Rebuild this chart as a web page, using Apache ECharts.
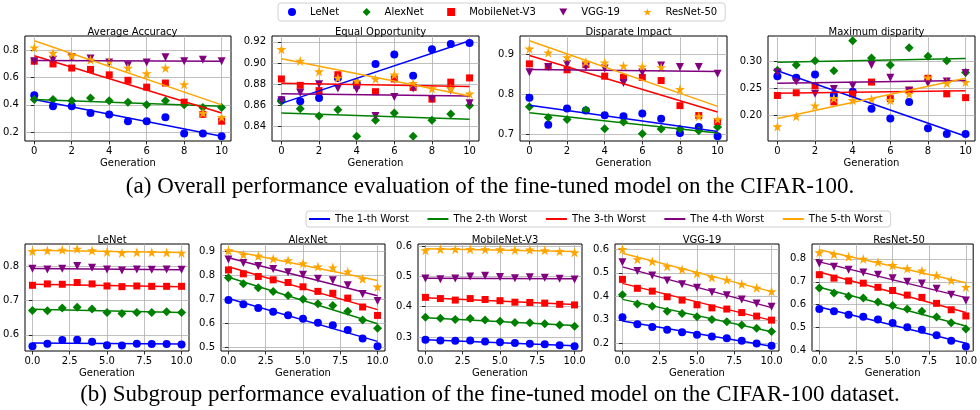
<!DOCTYPE html>
<html><head><meta charset="utf-8">
<script src="https://cdn.jsdelivr.net/npm/echarts@6/dist/echarts.min.js"></script>
<style>html,body{margin:0;padding:0;background:#fff}#c{width:980px;height:410px}</style>
</head><body><div id="c"></div><script>
// ---------------- data ----------------
const generations = [0,1,2,3,4,5,6,7,8,9,10];
const modelNames = ['LeNet','AlexNet','MobileNet-V3','VGG-19','ResNet-50'];
const worstNames = ['The 1-th Worst','The 2-th Worst','The 3-th Worst','The 4-th Worst','The 5-th Worst'];
const topTitles = ['Average Accuracy','Equal Opportunity','Disparate Impact','Maximum disparity'];
const bottomTitles = ['LeNet','AlexNet','MobileNet-V3','VGG-19','ResNet-50'];
const xTicksTop = [0,2,4,6,8,10];
const xTicksBottom = [0,2.5,5,7.5,10];

// (a) overall metrics, one row per model: LeNet, AlexNet, MobileNet-V3, VGG-19, ResNet-50
const averageAccuracy = [
  [0.47,0.39,0.39,0.34,0.33,0.28,0.28,0.31,0.19,0.19,0.17],
  [0.44,0.44,0.43,0.45,0.43,0.42,0.40,0.43,0.40,0.38,0.38],
  [0.72,0.70,0.67,0.66,0.62,0.58,0.53,0.56,0.42,0.33,0.28],
  [0.72,0.73,0.75,0.74,0.71,0.69,0.71,0.75,0.72,0.73,0.72],
  [0.82,0.78,0.76,0.73,0.72,0.67,0.63,0.67,0.55,0.34,0.31]
];
const averageAccuracyFit = [[0.44,0.17],[0.44,0.39],[0.76,0.34],[0.725,0.72],[0.87,0.40]];
const equalOpportunity = [
  [0.865,0.864,0.867,0.886,0.881,0.899,0.908,0.888,0.913,0.918,0.919],
  [0.864,0.857,0.850,0.856,0.831,0.846,0.853,0.831,0.846,0.852,0.860],
  [0.885,0.879,0.874,0.889,0.879,0.873,0.885,0.877,0.866,0.882,0.886],
  [0.865,0.872,0.880,0.876,0.875,0.850,0.868,0.876,0.866,0.874,0.862],
  [0.913,0.902,0.892,0.886,0.883,0.885,0.889,0.881,0.876,0.876,0.871]
];
const equalOpportunityFit = [[0.862,0.921],[0.853,0.847],[0.881,0.878],[0.871,0.869],[0.904,0.869]];
const disparateImpact = [
  [0.792,0.724,0.765,0.760,0.748,0.745,0.752,0.739,0.703,0.718,0.695],
  [0.769,0.742,0.737,0.761,0.714,0.731,0.701,0.713,0.713,0.709,0.718],
  [0.877,0.870,0.862,0.875,0.846,0.843,0.843,0.835,0.772,0.747,0.732],
  [0.856,0.869,0.876,0.870,0.865,0.829,0.855,0.873,0.869,0.869,0.852],
  [0.915,0.905,0.893,0.882,0.880,0.872,0.870,0.868,0.813,0.745,0.738]
];
const disparateImpactFit = [[0.773,0.707],[0.754,0.703],[0.898,0.756],[0.863,0.858],[0.935,0.770]];
const maximumDisparity = [
  [0.273,0.270,0.276,0.238,0.244,0.212,0.194,0.225,0.176,0.165,0.165],
  [0.284,0.294,0.302,0.283,0.339,0.307,0.294,0.326,0.310,0.302,0.280],
  [0.237,0.242,0.255,0.225,0.240,0.262,0.231,0.247,0.269,0.240,0.233],
  [0.280,0.263,0.240,0.249,0.255,0.294,0.270,0.246,0.260,0.263,0.279],
  [0.179,0.198,0.218,0.232,0.228,0.230,0.228,0.240,0.270,0.260,0.262]
];
const maximumDisparityFit = [[0.283,0.161],[0.299,0.306],[0.241,0.246],[0.260,0.265],[0.194,0.269]];

// (b) subgroup accuracy, one row per subgroup: 1-th ... 5-th worst
const lenetSubgroups = [
  [0.567,0.574,0.585,0.586,0.580,0.570,0.569,0.574,0.573,0.573,0.572],
  [0.671,0.670,0.678,0.680,0.675,0.665,0.662,0.665,0.665,0.667,0.665],
  [0.744,0.748,0.747,0.752,0.748,0.742,0.740,0.742,0.741,0.741,0.741],
  [0.792,0.790,0.792,0.800,0.795,0.790,0.787,0.790,0.789,0.790,0.789],
  [0.843,0.845,0.847,0.850,0.845,0.841,0.838,0.840,0.840,0.839,0.838]
];
const lenetSubgroupsFit = [[0.576,0.573],[0.674,0.665],[0.747,0.740],[0.793,0.789],[0.846,0.839]];
const alexnetSubgroups = [
  [0.697,0.679,0.664,0.648,0.634,0.619,0.603,0.592,0.572,0.537,0.505],
  [0.790,0.765,0.748,0.732,0.716,0.700,0.682,0.674,0.650,0.614,0.580],
  [0.822,0.806,0.795,0.781,0.770,0.752,0.733,0.725,0.705,0.668,0.633],
  [0.866,0.851,0.839,0.826,0.813,0.802,0.785,0.779,0.758,0.722,0.693],
  [0.903,0.886,0.880,0.869,0.862,0.849,0.836,0.832,0.815,0.785,0.752]
];
const alexnetSubgroupsFit = [[0.703,0.525],[0.792,0.598],[0.835,0.657],[0.873,0.715],[0.905,0.778]];
const mobilenetSubgroups = [
  [0.291,0.289,0.288,0.289,0.285,0.283,0.280,0.278,0.276,0.273,0.270],
  [0.365,0.362,0.358,0.361,0.356,0.352,0.348,0.347,0.344,0.340,0.336],
  [0.431,0.427,0.422,0.427,0.424,0.420,0.415,0.414,0.412,0.408,0.406],
  [0.493,0.491,0.493,0.500,0.502,0.498,0.494,0.497,0.496,0.492,0.490],
  [0.586,0.590,0.590,0.590,0.589,0.589,0.587,0.588,0.586,0.583,0.579]
];
const mobilenetSubgroupsFit = [[0.291,0.271],[0.364,0.338],[0.430,0.407],[0.494,0.492],[0.591,0.582]];
const vggSubgroups = [
  [0.311,0.281,0.270,0.258,0.248,0.237,0.229,0.222,0.211,0.200,0.190],
  [0.407,0.367,0.358,0.337,0.327,0.313,0.302,0.292,0.278,0.264,0.251],
  [0.472,0.434,0.422,0.398,0.384,0.364,0.351,0.346,0.331,0.316,0.299],
  [0.545,0.507,0.488,0.467,0.451,0.436,0.417,0.405,0.387,0.370,0.356],
  [0.600,0.557,0.548,0.527,0.514,0.497,0.480,0.470,0.452,0.436,0.421]
];
const vggSubgroupsFit = [[0.295,0.188],[0.387,0.250],[0.455,0.298],[0.525,0.352],[0.583,0.420]];
const resnetSubgroups = [
  [0.581,0.571,0.556,0.548,0.535,0.520,0.502,0.491,0.467,0.443,0.418],
  [0.673,0.651,0.637,0.629,0.612,0.597,0.581,0.571,0.546,0.521,0.494],
  [0.731,0.716,0.704,0.694,0.676,0.662,0.642,0.632,0.606,0.578,0.551],
  [0.780,0.766,0.753,0.741,0.731,0.716,0.700,0.693,0.670,0.643,0.618],
  [0.828,0.820,0.809,0.800,0.786,0.772,0.758,0.748,0.728,0.706,0.677]
];
const resnetSubgroupsFit = [[0.590,0.432],[0.676,0.507],[0.743,0.566],[0.787,0.631],[0.840,0.696]];

// y tick labels per panel
const yTicksTop = [[0.2,0.4,0.6,0.8],[0.84,0.86,0.88,0.90,0.92],[0.7,0.8,0.9],[0.20,0.25,0.30]];
const yTicksBottom = [[0.6,0.7,0.8],[0.5,0.6,0.7,0.8,0.9],[0.3,0.4,0.5,0.6],[0.2,0.3,0.4,0.5,0.6],[0.4,0.5,0.6,0.7,0.8]];

// ---------------- styling / layout ----------------
const COLORS = ['#0000ff','#008000','#ff0000','#800080','#ffa500'];
const STAR = 'path://M50,0L61.2,34.5L97.6,34.5L68.2,55.9L79.4,90.5L50,69.1L20.6,90.5L31.8,55.9L2.4,34.5L38.8,34.5Z';
const TRI_DOWN = 'path://M0,0L10,0L5,8.66Z';
const SYMBOLS = ['circle','diamond','rect',TRI_DOWN,STAR];
const SIZES = [8,9,7,8,10];
const FONT = 'DejaVu Sans';

const topLayout = {top:36, height:105, width:207, lefts:[24,272,520,768], yRanges:[[0.135,0.905],[0.8265,0.9255],[0.683,0.947],[0.152,0.348]], yDec:[1,2,1,2]};
const botLayout = {top:244, height:107, width:164, lefts:[25,221,418,615,812], yRanges:[[0.553,0.864],[0.485,0.93],[0.254,0.607],[0.168,0.622],[0.398,0.865]], yDec:[1,1,1,1,1]};

const topData = [[averageAccuracy,averageAccuracyFit],[equalOpportunity,equalOpportunityFit],[disparateImpact,disparateImpactFit],[maximumDisparity,maximumDisparityFit]];
const botData = [[lenetSubgroups,lenetSubgroupsFit],[alexnetSubgroups,alexnetSubgroupsFit],[mobilenetSubgroups,mobilenetSubgroupsFit],[vggSubgroups,vggSubgroupsFit],[resnetSubgroups,resnetSubgroupsFit]];

const grids = [], xAxes = [], yAxes = [], series = [], titles = [];
function addPanel(idx, left, top, width, height, title, yr, yticks, ydec, xticks, xdec, values, fits, isTop) {
  grids.push({left, top, width, height, show:true, borderColor:'#000', borderWidth:1, backgroundColor:'transparent'});
  titles.push({text:title, left:left+width/2, top:top-14, textAlign:'center',
    textStyle:{fontSize:10, fontWeight:'normal', color:'#000', fontFamily:FONT}});
  xAxes.push({gridIndex:idx, type:'value', min:-0.5, max:10.5,
    axisLine:{show:false},
    axisTick:{show:true, length:3.5, customValues:xticks, lineStyle:{color:'#000', width:0.8}},
    axisLabel:{customValues:xticks, fontSize:10, color:'#000', fontFamily:FONT, margin:5, formatter:v=>Number(v).toFixed(xdec)},
    splitLine:{show:true, lineStyle:{color:'#b0b0b0', width:0.8}},
    name:'Generation', nameLocation:'middle', nameGap:17,
    nameTextStyle:{fontSize:10, color:'#000', fontFamily:FONT}});
  yAxes.push({gridIndex:idx, type:'value', min:yr[0], max:yr[1],
    axisLine:{show:false},
    axisTick:{show:true, length:3.5, customValues:yticks, lineStyle:{color:'#000', width:0.8}},
    axisLabel:{customValues:yticks, fontSize:10, color:'#000', fontFamily:FONT, margin:6, formatter:v=>Number(v).toFixed(ydec)},
    splitLine:{show:true, lineStyle:{color:'#b0b0b0', width:0.8}}});
  values.forEach((vals, k) => {
    const nm = isTop ? modelNames[k] : worstNames[k];
    series.push({type:'scatter', name: isTop ? nm : nm + ' points', xAxisIndex:idx, yAxisIndex:idx,
      symbol:SYMBOLS[k], symbolSize:SIZES[k], color:COLORS[k], itemStyle:{color:COLORS[k], opacity:1},
      data: generations.map((g,i)=>[g, vals[i]]), z:2, silent:true});
  });
  fits.forEach((f, k) => {
    const nm = isTop ? modelNames[k] + ' fit' : worstNames[k];
    series.push({type:'line', name:nm, xAxisIndex:idx, yAxisIndex:idx, color:COLORS[k],
      showSymbol:false, symbol:'none', lineStyle:{color:COLORS[k], width:1.5},
      data:[[generations[0], f[0]],[generations[generations.length-1], f[1]]], z:3, silent:true});
  });
}
topTitles.forEach((t,i)=>addPanel(i, topLayout.lefts[i], topLayout.top, topLayout.width, topLayout.height, t,
  topLayout.yRanges[i], yTicksTop[i], topLayout.yDec[i], xTicksTop, 0, topData[i][0], topData[i][1], true));
bottomTitles.forEach((t,i)=>addPanel(4+i, botLayout.lefts[i], botLayout.top, botLayout.width, botLayout.height, t,
  botLayout.yRanges[i], yTicksBottom[i], botLayout.yDec[i], xTicksBottom, 1, botData[i][0], botData[i][1], false));

const chart = echarts.init(document.getElementById('c'), null, {renderer:'canvas'});
chart.setOption({
  animation:false,
  backgroundColor:'#fff',
  title: titles,
  grid: grids, xAxis: xAxes, yAxis: yAxes, series,
  legend: [
    {data: modelNames.map((n,k)=>({name:n, icon:SYMBOLS[k]})), left:278, top:3, orient:'horizontal',
     itemWidth:8, itemHeight:8, itemGap:23.5, padding:[4,8,4,10], borderColor:'#d0d0d0', borderWidth:1, borderRadius:3,
     textStyle:{fontSize:10, color:'#000', fontFamily:FONT, padding:[0,0,0,9]}, selectedMode:false},
    {data: worstNames.map(n=>({name:n, icon:'rect'})), left:306, top:211, orient:'horizontal',
     itemWidth:21, itemHeight:2, itemGap:18.6, padding:[3,8,3,3], borderColor:'#d0d0d0', borderWidth:1, borderRadius:3,
     textStyle:{fontSize:10, color:'#000', fontFamily:FONT}, selectedMode:false}
  ],
  graphic: [
    {type:'text', x:490, y:187, style:{text:'(a) Overall performance evaluation of the fine-tuned model on the CIFAR-100.',
      textAlign:'center', textVerticalAlign:'middle', font:'23px "Liberation Serif"', fill:'#000'}},
    {type:'text', x:490, y:395, style:{text:'(b) Subgroup performance evaluation of the fine-tuned model on the CIFAR-100 dataset.',
      textAlign:'center', textVerticalAlign:'middle', font:'23px "Liberation Serif"', fill:'#000'}}
  ]
});
</script></body></html>
